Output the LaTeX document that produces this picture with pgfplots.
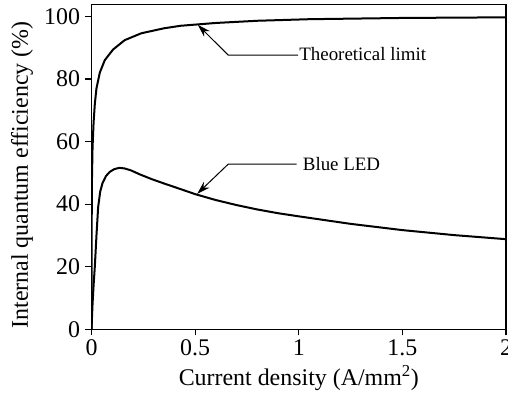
\documentclass[border=0pt]{standalone}
\usepackage{fontspec}
\setmainfont{Liberation Serif}
\usepackage{pgfplots}
\pgfplotsset{compat=1.18}
\usetikzlibrary{arrows.meta}
\begin{document}
\begin{tikzpicture}
\begin{axis}[
  name=ax,
  scale only axis,
  width=414.5bp, height=324.8bp,
  xmin=0, xmax=2, ymin=0, ymax=103.8,
  xtick={0,0.5,1,1.5,2},
  xticklabels={0,0.5,1,1.5,2},
  ytick={0,20,40,60,80,100},
  tick align=outside,
  xtick pos=bottom, ytick pos=left,
  major tick length=6bp,
  axis line style={line width=1.1bp},
  every tick/.style={line width=1.1bp, black},
  /pgf/number format/assume math mode=true,
  tick label style={font=\fontsize{24}{24}\selectfont},
  xticklabel style={yshift=-1bp},
  yticklabel style={xshift=-2bp},
  xlabel={Current density (A/mm\textsuperscript{2})},
  ylabel={Internal quantum efficiency (\%)},
  label style={font=\fontsize{24}{24}\selectfont},
  xlabel style={at={(axis description cs:0.5,0)}, anchor=base, yshift=-56bp},
  ylabel style={at={(axis description cs:-0.1677,0.475)}, anchor=center},
  clip=true,
]
\addplot[black, line width=2bp] coordinates {
(0,0) (0.0005,22) (0.001,34) (0.002,47) (0.005,58) (0.01,66) (0.016,72) (0.024,77)
(0.04,82) (0.064,86) (0.104,89.4) (0.16,92.4) (0.24,94.6) (0.35,96.2) (0.43,97)
(0.6,97.9) (0.8,98.6) (1.05,99.1) (1.5,99.5) (2,99.7)
};
\addplot[black, line width=2bp] coordinates {
(0,0) (0.005,8) (0.01,14) (0.016,20) (0.024,30) (0.032,39) (0.042,44) (0.053,46.7)
(0.07,49) (0.088,50.3) (0.11,51.2) (0.135,51.6) (0.16,51.4) (0.19,50.8) (0.23,49.6)
(0.29,48) (0.35,46.6) (0.43,44.8) (0.5,43.2) (0.6,41.3) (0.7,39.7) (0.8,38.3)
(0.9,37.1) (1,36.1) (1.25,33.7) (1.5,31.7) (1.75,30.1) (2,28.8)
};
\draw[line width=1bp, -{Stealth[length=13bp,width=8bp]}]
  (axis cs:0.997,87.6) -- (axis cs:0.66,87.6) -- (axis cs:0.513,97.3);
\node[anchor=base west, inner sep=1bp, font=\fontsize{19}{19}\selectfont]
  at ([yshift=-5bp]axis cs:0.997,87.6) {Theoretical limit};
\draw[line width=1bp, -{Stealth[length=13bp,width=8bp]}]
  (axis cs:0.99,52.8) -- (axis cs:0.66,52.8) -- (axis cs:0.51,43.3);
\node[anchor=base west, inner sep=1bp, font=\fontsize{19}{19}\selectfont]
  at ([xshift=5bp,yshift=-6bp]axis cs:0.99,52.8) {Blue LED};
\end{axis}
\pgfresetboundingbox
\path[use as bounding box] ([xshift=-91.5bp,yshift=-63.7bp]ax.south west) rectangle ([xshift=2bp,yshift=4.5bp]ax.north east);
\end{tikzpicture}
\end{document}
